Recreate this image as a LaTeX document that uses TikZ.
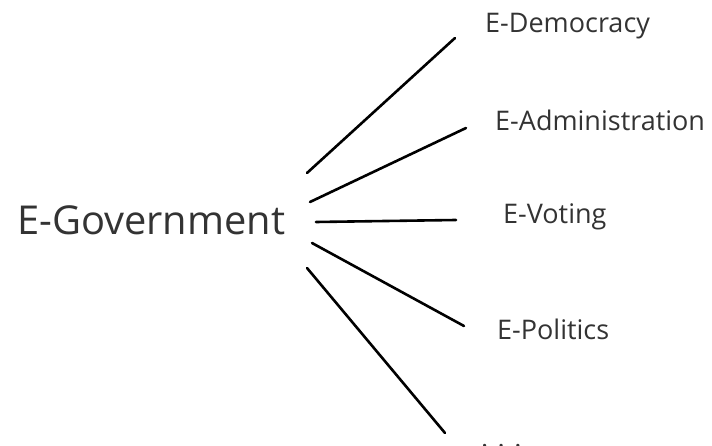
\documentclass[tikz,border=0pt]{standalone}
\usepackage{fontspec}
\setmainfont{Open Sans}
\begin{document}
\begin{tikzpicture}[x=1pt,y=-1pt,
  spoke/.style={line width=2.6pt,line cap=round,black},
  label/.style={anchor=base west,inner sep=0pt,text=black!80,font=\fontsize{27}{32}\selectfont},
  root/.style={anchor=base west,inner sep=0pt,text=black!80,font=\fontsize{39.8}{46}\selectfont}]
  \useasboundingbox (0,0) rectangle (712,446);
  % labels
  \node[root]  (gov)   at (17,235)  {E-Government};
  \node[label] (dem)   at (485,33)  {E-Democracy};
  \node[label] (adm)   at (495,131) {E-Administration};
  \node[label] (vot)   at (503,224) {E-Voting};
  \node[label] (pol)   at (497,339) {E-Politics};
  \node[label] (more)  at (481,447) {. . .};
  % spoke ends
  \coordinate (s1) at (307,173); \coordinate (e1) at (455,38);
  \coordinate (s2) at (310,202); \coordinate (e2) at (466,128);
  \coordinate (s3) at (316,222); \coordinate (e3) at (456,220);
  \coordinate (s4) at (312,243); \coordinate (e4) at (464,326);
  \coordinate (s5) at (307,268); \coordinate (e5) at (445,433);
  \foreach \i in {1,...,5} \draw[spoke] (s\i) -- (e\i);
\end{tikzpicture}
\end{document}
